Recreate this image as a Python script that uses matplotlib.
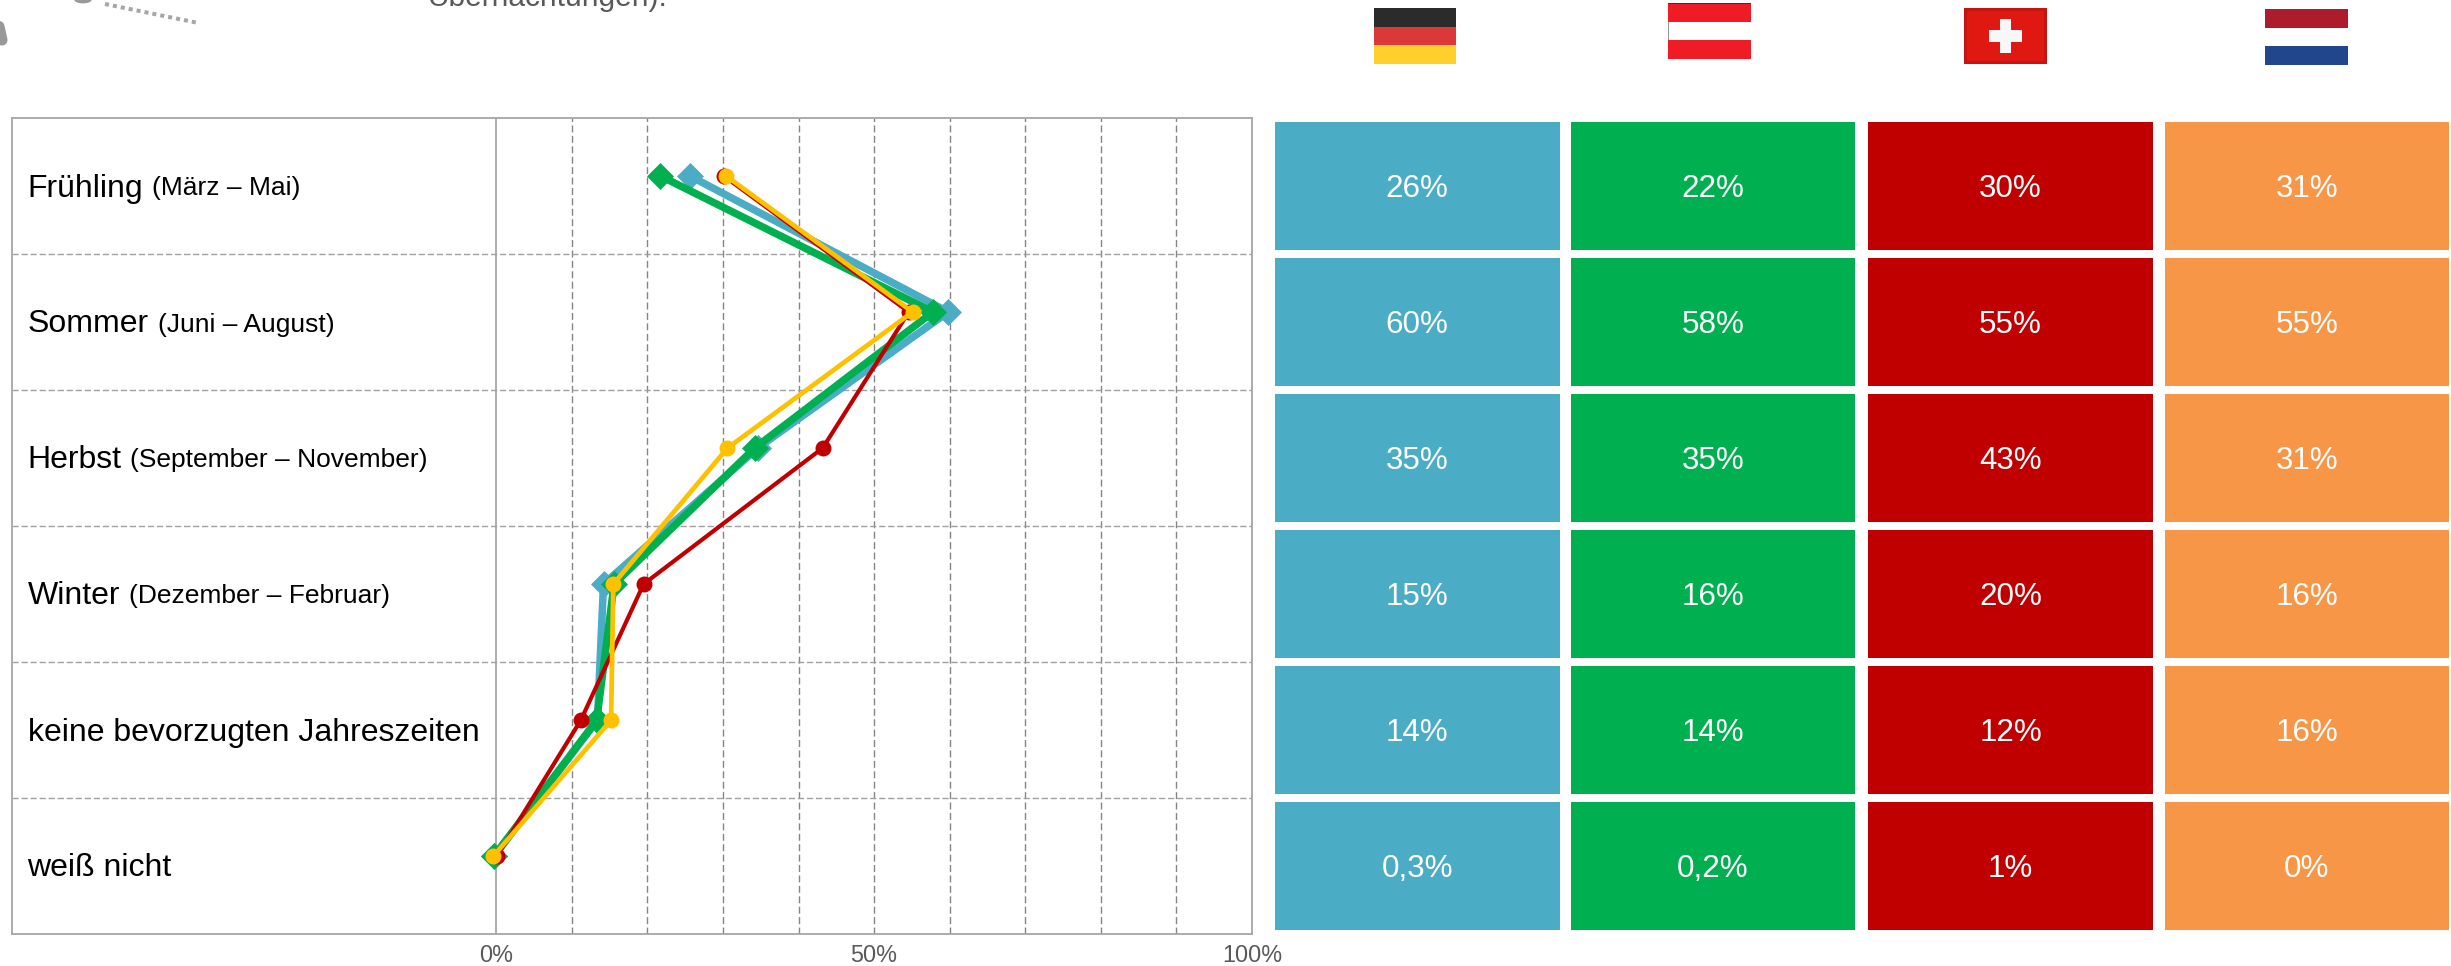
import matplotlib
matplotlib.use('Agg')
import matplotlib.pyplot as plt
from matplotlib.patches import Rectangle

# Values
row_names = ['Frühling', 'Sommer', 'Herbst', 'Winter', 'keine bevorzugten Jahreszeiten', 'weiß nicht']
row_notes = ['(März – Mai)', '(Juni – August)', '(September – November)', '(Dezember – Februar)', '', '']
de_values = [25.6, 59.8, 34.6, 14.2, 13.4, -0.3]
at_values = [21.7, 57.8, 34.2, 15.6, 13.3, -0.3]
ch_values = [30.1, 54.6, 43.2, 19.5, 11.2, 0.1]
nl_values = [30.4, 55.1, 30.6, 15.5, 15.2, -0.4]
de_labels = ['26%', '60%', '35%', '15%', '14%', '0,3%']
at_labels = ['22%', '58%', '35%', '16%', '14%', '0,2%']
ch_labels = ['30%', '55%', '43%', '20%', '12%', '1%']
nl_labels = ['31%', '55%', '31%', '16%', '16%', '0%']
x_ticks = [0, 50, 100]
x_tick_labels = ['0%', '50%', '100%']

W, H = 2451, 966
BLUE = '#4BACC6'
GREEN = '#00B050'
RED = '#C00000'
YELLOW = '#FFC000'
ORANGE = '#F79646'
GRAY = '#A6A6A6'

plt.rcParams['font.family'] = ['Liberation Sans', 'DejaVu Sans']

fig = plt.figure(figsize=(W / 100, H / 100), dpi=100)


def px_axes(left, top, right, bottom, **kw):
    # axes placed by pixel edges, top-left origin
    return fig.add_axes([left / W, 1 - bottom / H, (right - left) / W, (bottom - top) / H], **kw)


def px_rect(left, top, right, bottom, color):
    fig.add_artist(Rectangle((left / W, 1 - bottom / H), (right - left) / W, (bottom - top) / H,
                             transform=fig.transFigure, facecolor=color, edgecolor='none'))


# line chart
ax = px_axes(12, 117.5, 1252, 934)
rows = list(range(len(row_names)))
ax.set_xlim(-64.06, 100)
ax.set_ylim(5.571, -0.429)

for v in range(10, 100, 10):
    ax.axvline(v, color='#858585', lw=1.0, ls=(0, (5, 2.5)), zorder=1)
for r in rows[:-1]:
    ax.axhline(r + 0.571, color='#A0A0A0', lw=1.0, ls=(0, (4.5, 2)), zorder=1)
ax.axvline(0, color=GRAY, lw=1.3, zorder=1)

ax.plot(de_values, rows, color=BLUE, lw=5.4, marker='D', ms=13.5, mew=0.5, zorder=3, clip_on=False)
ax.plot(at_values, rows, color=GREEN, lw=5.4, marker='D', ms=13.5, mew=0.5, zorder=4, clip_on=False)
ax.plot(ch_values, rows, color=RED, lw=3, marker='o', ms=11.5, mew=0, zorder=5, clip_on=False)
ax.plot(nl_values, rows, color=YELLOW, lw=3.4, marker='o', ms=11.5, mew=0, zorder=6, clip_on=False)

ax.set_yticks([])
ax.set_xticks(x_ticks)
ax.set_xticklabels(x_tick_labels, fontsize=16.8, color='#595959')
ax.tick_params(axis='x', length=0, pad=7)
for spine in ax.spines.values():
    spine.set_color(GRAY)
    spine.set_linewidth(1.3)

# row labels
renderer = fig.canvas.get_renderer()
for r, name, note in zip(rows, row_names, row_notes):
    base = 196.5 + 136 * r
    t = fig.text(27.5 / W, 1 - base / H, name, fontsize=23, color='black', va='baseline', ha='left')
    if note:
        box = t.get_window_extent(renderer)
        fig.text((box.x1 + 9) / W, 1 - (base - 1) / H, note, fontsize=19, color='black', va='baseline', ha='left')

# value table
col_edges = [(1275, 1559.5), (1571, 1855), (1868, 2153), (2164.5, 2449)]
col_colors = [BLUE, GREEN, RED, ORANGE]
col_labels = [de_labels, at_labels, ch_labels, nl_labels]
for (left, right), color, labels in zip(col_edges, col_colors, col_labels):
    for r, label in enumerate(labels):
        top = 122 + 136 * r
        px_rect(left, top, right, top + 128, color)
        fig.text((left + right) / 2 / W, 1 - (top + 75) / H, label, fontsize=22.6,
                 color='white', ha='center', va='baseline')

# flags
for top, color in zip([8, 26.7, 45.3], ['#2B2B2B', '#DD3839', '#FFD02B']):
    px_rect(1373.5, top, 1456, top + 18.7, color)
for top, bottom, color in zip([3, 22, 40], [22, 40, 59], ['#EF1C25', 'white', '#EF1C25']):
    px_rect(1668, top, 1751.5, bottom, color)
px_rect(1668, 3, 1751.5, 3.7, '#7A1A1A')
px_rect(1668, 22, 1668.7, 40, '#999999')
px_rect(1964, 8, 2047, 64, '#C8140F')
px_rect(1967, 11, 2044, 61, '#E01812')
px_rect(2000, 19, 2011, 53, '#F7F7F7')
px_rect(1989, 30, 2022, 41.7, '#F7F7F7')
px_rect(2265, 9, 2348, 28, '#AD1C2B')
px_rect(2265, 46, 2348, 65, '#21468B')

# cropped leftovers from the top of the slide
fig.add_artist(plt.Line2D([-2 / W, 2 / W], [1 - 22 / H, 1 - 40 / H], transform=fig.transFigure,
                          color='#999999', lw=8, solid_capstyle='round'))
fig.add_artist(plt.Circle((83 / W, 1), 0.0035, transform=fig.transFigure, facecolor='#999999', edgecolor='none'))
fig.add_artist(plt.Line2D([105 / W, 196 / W], [1 - 4 / H, 1 - 22.5 / H], transform=fig.transFigure,
                          color=GRAY, lw=2.9, ls=(0, (1, 1))))
fig.text(428 / W, 1 - 6 / H, 'Übernachtungen):', fontsize=21.5, color='#595959', ha='left', va='baseline')

fig.savefig('out.png', dpi=100)
